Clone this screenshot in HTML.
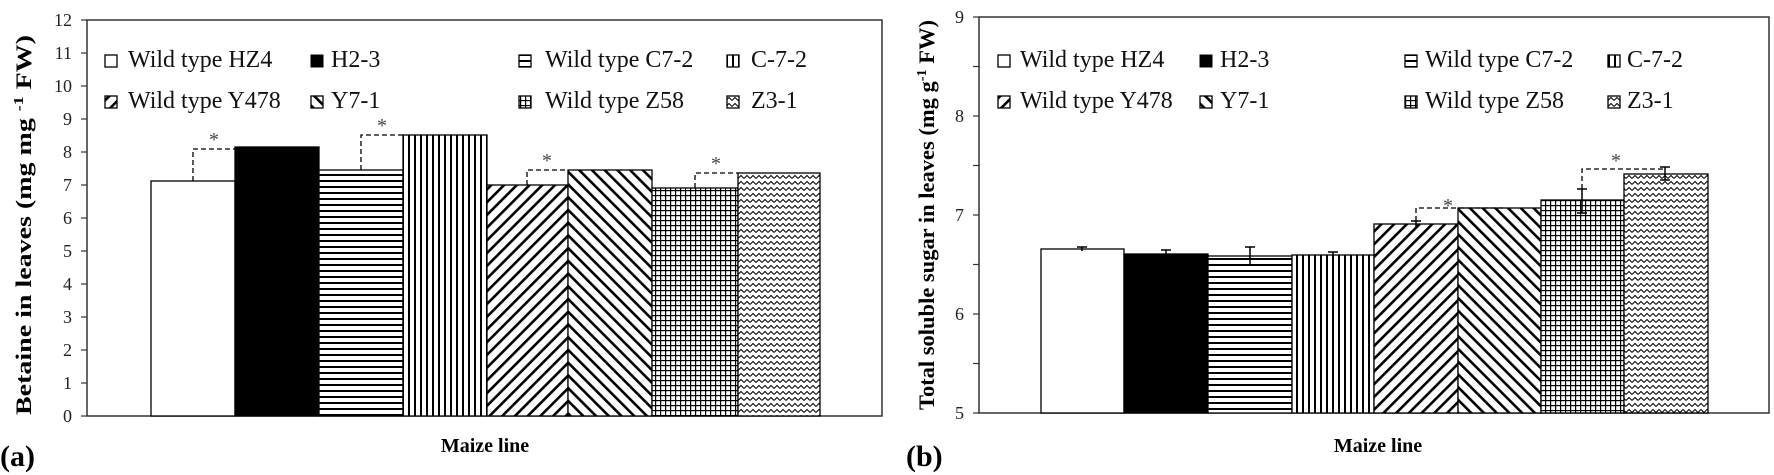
<!DOCTYPE html>
<html><head><meta charset="utf-8"><style>
html,body{margin:0;padding:0;background:#fff;}
svg{display:block;font-family:"Liberation Serif","DejaVu Serif",serif;}
</style></head><body>
<svg width="1774" height="475" viewBox="0 0 1774 475" xmlns="http://www.w3.org/2000/svg">
<defs>
<pattern id="ph" patternUnits="userSpaceOnUse" width="6" height="6"><rect width="6" height="6" fill="#fff"/><rect y="0" width="6" height="2" fill="#000"/></pattern>
<pattern id="pv" patternUnits="userSpaceOnUse" width="6" height="6"><rect width="6" height="6" fill="#fff"/><rect x="0" width="2" height="6" fill="#000"/></pattern>
<pattern id="pu" patternUnits="userSpaceOnUse" width="9" height="9" patternTransform="rotate(45)"><rect width="9" height="9" fill="#fff"/><rect width="2.6" height="9" fill="#000"/></pattern>
<pattern id="pd" patternUnits="userSpaceOnUse" width="9" height="9" patternTransform="rotate(-45)"><rect width="9" height="9" fill="#fff"/><rect width="2.6" height="9" fill="#000"/></pattern>
<pattern id="pg" patternUnits="userSpaceOnUse" width="5" height="5"><rect width="5" height="5" fill="#fff"/><rect width="5" height="1.2" fill="#000"/><rect width="1.2" height="5" fill="#000"/></pattern>
<pattern id="pz" patternUnits="userSpaceOnUse" width="6" height="6"><rect width="6" height="6" fill="#fff"/><polyline points="0,4.5 3,1.5 6,4.5" fill="none" stroke="#000" stroke-width="1"/></pattern>
</defs>

<!-- ===== Chart (a) ===== -->
<rect x="87" y="20" width="795" height="396" fill="none" stroke="#333" stroke-width="1.5"/>
<g font-size="18" text-anchor="end" fill="#222">
<text x="72" y="422">0</text><text x="72" y="389">1</text><text x="72" y="356">2</text><text x="72" y="323">3</text><text x="72" y="290">4</text><text x="72" y="257">5</text><text x="72" y="224">6</text><text x="72" y="191">7</text><text x="72" y="158">8</text><text x="72" y="125">9</text><text x="72" y="92">10</text><text x="72" y="59">11</text><text x="72" y="26">12</text>
</g>
<g stroke="#333" stroke-width="1.2">
<line x1="81" y1="416" x2="87" y2="416"/><line x1="81" y1="383" x2="87" y2="383"/><line x1="81" y1="350" x2="87" y2="350"/><line x1="81" y1="317" x2="87" y2="317"/><line x1="81" y1="284" x2="87" y2="284"/><line x1="81" y1="251" x2="87" y2="251"/><line x1="81" y1="218" x2="87" y2="218"/><line x1="81" y1="185" x2="87" y2="185"/><line x1="81" y1="152" x2="87" y2="152"/><line x1="81" y1="119" x2="87" y2="119"/><line x1="81" y1="86" x2="87" y2="86"/><line x1="81" y1="53" x2="87" y2="53"/><line x1="81" y1="20" x2="87" y2="20"/>
</g>
<g stroke="#000" stroke-width="1.3">
<rect x="151" y="181" width="84" height="235" fill="#fff"/>
<rect x="235" y="147" width="84" height="269" fill="#000"/>
<rect x="319" y="170" width="84" height="246" fill="url(#ph)"/>
<rect x="403" y="135" width="84" height="281" fill="url(#pv)"/>
<rect x="487" y="185" width="81" height="231" fill="url(#pu)"/>
<rect x="568" y="170" width="84" height="246" fill="url(#pd)"/>
<rect x="652" y="188" width="86" height="228" fill="url(#pg)"/>
<rect x="738" y="173" width="82" height="243" fill="url(#pz)"/>
</g>
<g stroke="#000" stroke-width="1.3" fill="none" stroke-dasharray="5,3">
<polyline points="193,181 193,149 235,149"/>
<polyline points="361,170 361,135 403,135"/>
<polyline points="527,185 527,170 568,170"/>
<polyline points="695,188 695,173 738,173"/>
</g>
<g font-size="20" fill="#444" text-anchor="middle">
<text x="214" y="146">*</text><text x="382" y="132">*</text><text x="547" y="167">*</text><text x="716" y="170">*</text>
</g>
<!-- legend a -->
<g font-size="24" fill="#111">
<rect x="105" y="55" width="12" height="12" fill="#fff" stroke="#000" stroke-width="1.3"/><text x="128" y="67">Wild type HZ4</text>
<rect x="311" y="55" width="12" height="12" fill="#000" stroke="#000"/><text x="331" y="67">H2-3</text>
<rect x="519" y="55" width="12" height="12" fill="url(#ph)" stroke="#000" stroke-width="1.3"/><text x="545" y="67">Wild type C7-2</text>
<rect x="727" y="55" width="12" height="12" fill="url(#pv)" stroke="#000" stroke-width="1.3"/><text x="751" y="67">C-7-2</text>
<rect x="105" y="96" width="12" height="12" fill="url(#pu)" stroke="#000" stroke-width="1.3"/><text x="128" y="108">Wild type Y478</text>
<rect x="311" y="96" width="12" height="12" fill="url(#pd)" stroke="#000" stroke-width="1.3"/><text x="331" y="108">Y7-1</text>
<rect x="519" y="96" width="12" height="12" fill="url(#pg)" stroke="#000" stroke-width="1.3"/><text x="545" y="108">Wild type Z58</text>
<rect x="727" y="96" width="12" height="12" fill="url(#pz)" stroke="#000" stroke-width="1.3"/><text x="751" y="108">Z3-1</text>
</g>
<text transform="translate(31,225) rotate(-90)" text-anchor="middle" font-size="22" font-weight="bold" textLength="380" lengthAdjust="spacingAndGlyphs">Betaine in leaves (mg mg <tspan font-size="14" dy="-8">-1</tspan><tspan dy="8"> FW)</tspan></text>
<text x="485" y="452" text-anchor="middle" font-size="20" font-weight="bold">Maize line</text>
<text x="0" y="466" font-size="30" font-weight="bold">(a)</text>

<!-- ===== Chart (b) ===== -->
<rect x="979" y="17" width="790" height="396" fill="none" stroke="#333" stroke-width="1.5"/>
<g font-size="18" text-anchor="end" fill="#222">
<text x="964" y="419">5</text><text x="964" y="320">6</text><text x="964" y="221">7</text><text x="964" y="122">8</text><text x="964" y="23">9</text>
</g>
<g stroke="#333" stroke-width="1.2">
<line x1="973" y1="413" x2="979" y2="413"/><line x1="973" y1="363.5" x2="979" y2="363.5"/><line x1="973" y1="314" x2="979" y2="314"/><line x1="973" y1="264.5" x2="979" y2="264.5"/><line x1="973" y1="215" x2="979" y2="215"/><line x1="973" y1="165.5" x2="979" y2="165.5"/><line x1="973" y1="116" x2="979" y2="116"/><line x1="973" y1="66.5" x2="979" y2="66.5"/><line x1="973" y1="17" x2="979" y2="17"/>
</g>
<g stroke="#000" stroke-width="1.3">
<rect x="1041" y="249" width="83" height="164" fill="#fff"/>
<rect x="1124" y="254" width="84" height="159" fill="#000"/>
<rect x="1208" y="256" width="84" height="157" fill="url(#ph)"/>
<rect x="1292" y="255" width="82" height="158" fill="url(#pv)"/>
<rect x="1374" y="224" width="84" height="189" fill="url(#pu)"/>
<rect x="1458" y="208" width="83" height="205" fill="url(#pd)"/>
<rect x="1541" y="200" width="83" height="213" fill="url(#pg)"/>
<rect x="1624" y="174" width="84" height="239" fill="url(#pz)"/>
</g>
<g stroke="#000" stroke-width="1.5">
<line x1="1082" y1="247" x2="1082" y2="251"/><line x1="1077" y1="247" x2="1087" y2="247"/>
<line x1="1166" y1="250" x2="1166" y2="258"/><line x1="1161" y1="250" x2="1171" y2="250"/>
<line x1="1250" y1="247" x2="1250" y2="265"/><line x1="1245" y1="247" x2="1255" y2="247"/><line x1="1245" y1="265" x2="1255" y2="265"/>
<line x1="1333" y1="252" x2="1333" y2="259"/><line x1="1328" y1="252" x2="1338" y2="252"/>
<line x1="1416" y1="221" x2="1416" y2="227"/><line x1="1411" y1="221" x2="1421" y2="221"/>
<line x1="1582" y1="189" x2="1582" y2="213"/><line x1="1577" y1="189" x2="1587" y2="189"/><line x1="1577" y1="213" x2="1587" y2="213"/>
<line x1="1665" y1="167" x2="1665" y2="180"/><line x1="1660" y1="167" x2="1670" y2="167"/><line x1="1660" y1="180" x2="1670" y2="180"/>
</g>
<g stroke="#000" stroke-width="1.3" fill="none" stroke-dasharray="5,3">
<polyline points="1416,221 1416,208 1503,208"/>
<polyline points="1582,189 1582,169 1665,169"/>
</g>
<g font-size="20" fill="#444" text-anchor="middle">
<text x="1448" y="212">*</text><text x="1616" y="167">*</text>
</g>
<g font-size="24" fill="#111">
<rect x="998" y="55" width="12" height="12" fill="#fff" stroke="#000" stroke-width="1.3"/><text x="1020" y="67">Wild type HZ4</text>
<rect x="1200" y="55" width="12" height="12" fill="#000" stroke="#000"/><text x="1220" y="67">H2-3</text>
<rect x="1405" y="55" width="12" height="12" fill="url(#ph)" stroke="#000" stroke-width="1.3"/><text x="1425" y="67">Wild type C7-2</text>
<rect x="1608" y="55" width="12" height="12" fill="url(#pv)" stroke="#000" stroke-width="1.3"/><text x="1627" y="67">C-7-2</text>
<rect x="998" y="96" width="12" height="12" fill="url(#pu)" stroke="#000" stroke-width="1.3"/><text x="1020" y="108">Wild type Y478</text>
<rect x="1200" y="96" width="12" height="12" fill="url(#pd)" stroke="#000" stroke-width="1.3"/><text x="1220" y="108">Y7-1</text>
<rect x="1405" y="96" width="12" height="12" fill="url(#pg)" stroke="#000" stroke-width="1.3"/><text x="1425" y="108">Wild type Z58</text>
<rect x="1608" y="96" width="12" height="12" fill="url(#pz)" stroke="#000" stroke-width="1.3"/><text x="1627" y="108">Z3-1</text>
</g>
<text transform="translate(934,215) rotate(-90)" text-anchor="middle" font-size="22" font-weight="bold" textLength="390" lengthAdjust="spacingAndGlyphs">Total soluble sugar in leaves (mg g<tspan font-size="14" dy="-8">-1</tspan><tspan dy="8"> FW)</tspan></text>
<text x="1378" y="452" text-anchor="middle" font-size="20" font-weight="bold">Maize line</text>
<text x="906" y="466" font-size="30" font-weight="bold">(b)</text>
</svg>
</body></html>
